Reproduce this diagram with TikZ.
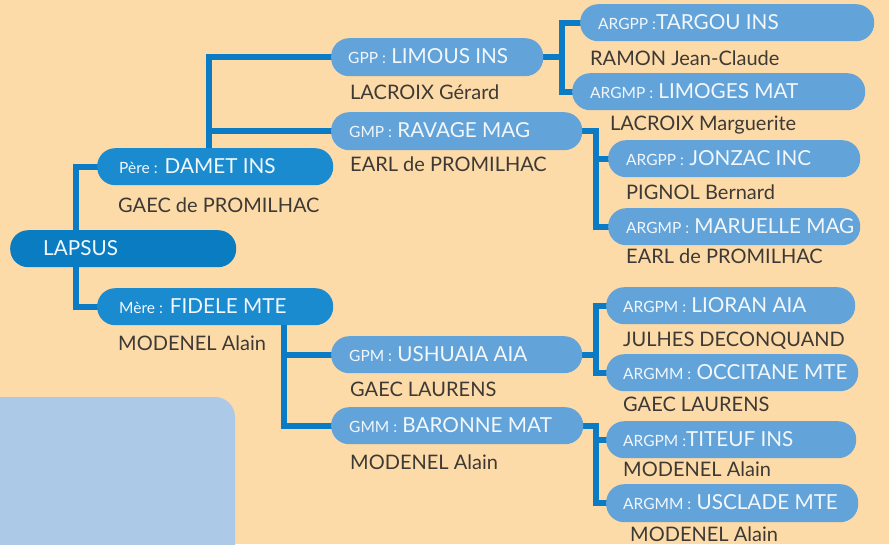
\documentclass[tikz,border=0pt]{standalone}
\usepackage{fontspec}
\setmainfont{Lato}
\pgfdeclarelayer{back}
\pgfdeclarelayer{bg}
\pgfsetlayers{back,bg,main}
\definecolor{bgpeach}{HTML}{FDDBA8}
\definecolor{darkblue}{HTML}{0A7CC2}
\definecolor{midblue}{HTML}{1B8BCF}
\definecolor{lightblue}{HTML}{62A3D9}
\definecolor{linkblue}{HTML}{0A7BC4}
\definecolor{panelblue}{HTML}{ADC9E8}
\definecolor{pilltxt}{HTML}{F2F7FC}
\definecolor{nametxt}{HTML}{3D3935}
\tikzset{
  pill/.style={draw=none, rounded corners=18pt, minimum height=37pt, inner sep=0pt, anchor=north west},
  pdark/.style={pill, fill=darkblue},
  pmid/.style={pill, fill=midblue},
  plight/.style={pill, fill=lightblue},
  ptext/.style={anchor=base west, text=pilltxt, inner sep=0pt, font=\fontsize{20.7}{24}\selectfont},
  ntext/.style={anchor=base west, text=nametxt, inner sep=0pt, font=\fontsize{20}{24}\selectfont},
  conn/.style={draw=linkblue, line width=6pt},
}
\newcommand\pfx[1]{{\fontsize{15.5}{17}\selectfont #1}}
\begin{document}
\begin{tikzpicture}[x=1pt,y=-1pt]
\useasboundingbox (0,0) rectangle (889,544);
\begin{pgfonlayer}{back}
\fill[bgpeach] (0,0) rectangle (889,544);
\begin{scope}
  \clip (0,0) rectangle (889,544);
  \fill[panelblue, rounded corners=20pt] (-40,397) rectangle (235,600);
\end{scope}
\end{pgfonlayer}

% pills
\node[pdark, minimum width=226pt] (lapsus) at (10,230) {};
\node[pmid, minimum width=236pt] (pere) at (97,148) {};
\node[pmid, minimum width=236pt] (mere) at (97,288) {};
\node[plight, minimum width=212pt, minimum height=38pt] (gpp) at (331,38) {};
\node[plight, minimum width=251pt, minimum height=38pt] (gmp) at (331,112) {};
\node[plight, minimum width=251pt] (gpm) at (331,336) {};
\node[plight, minimum width=252pt] (gmm) at (331,407) {};
\node[plight, minimum width=294pt] (targou) at (580,4) {};
\node[plight, minimum width=293pt] (limoges) at (572,73) {};
\node[plight, minimum width=252pt] (jonzac) at (608,140) {};
\node[plight, minimum width=252pt] (maruelle) at (608,208) {};
\node[plight, minimum width=249pt] (lioran) at (606,287) {};
\node[plight, minimum width=252pt] (occitane) at (606,354) {};
\node[plight, minimum width=250pt] (titeuf) at (606,421) {};
\node[plight, minimum width=252pt, minimum height=38pt] (usclade) at (606,484) {};

% pill texts
\node[ptext] (tlapsus) at ([xshift=33pt,yshift=-6.5pt]lapsus.west) {LAPSUS};
\node[ptext] (tpere) at ([xshift=22pt,yshift=-6.5pt]pere.west) {\pfx{Père :} DAMET INS};
\node[ptext] (tmere) at ([xshift=22pt,yshift=-6.5pt]mere.west) {\pfx{Mère :} FIDELE MTE};
\node[ptext] (tgpp) at ([xshift=17pt,yshift=-6.5pt]gpp.west) {\pfx{GPP :} LIMOUS INS};
\node[ptext] (tgmp) at ([xshift=18pt,yshift=-6.5pt]gmp.west) {\pfx{GMP :} RAVAGE MAG};
\node[ptext] (tgpm) at ([xshift=18pt,yshift=-6.5pt]gpm.west) {\pfx{GPM :} USHUAIA AIA};
\node[ptext] (tgmm) at ([xshift=18pt,yshift=-6.5pt]gmm.west) {\pfx{GMM :} BARONNE MAT};
\node[ptext] (ttargou) at ([xshift=18pt,yshift=-6.5pt]targou.west) {\pfx{ARGPP :}TARGOU INS};
\node[ptext] (tlimoges) at ([xshift=18pt,yshift=-6.5pt]limoges.west) {\pfx{ARGMP :} LIMOGES MAT};
\node[ptext] (tjonzac) at ([xshift=18pt,yshift=-6.5pt]jonzac.west) {\pfx{ARGPP :} JONZAC INC};
\node[ptext] (tmaruelle) at ([xshift=18pt,yshift=-6.5pt]maruelle.west) {\pfx{ARGMP :} MARUELLE MAG};
\node[ptext] (tlioran) at ([xshift=17pt,yshift=-6.5pt]lioran.west) {\pfx{ARGPM :} LIORAN AIA};
\node[ptext] (toccitane) at ([xshift=17pt,yshift=-6.5pt]occitane.west) {\pfx{ARGMM :} OCCITANE MTE};
\node[ptext] (ttiteuf) at ([xshift=17pt,yshift=-6.5pt]titeuf.west) {\pfx{ARGPM :}TITEUF INS};
\node[ptext] (tusclade) at ([xshift=17pt,yshift=-6.5pt]usclade.west) {\pfx{ARGMM :} USCLADE MTE};

% owner names
\node[ntext] (n1) at (118,212) {GAEC de PROMILHAC};
\node[ntext] (n2) at (118,350) {MODENEL Alain};
\node[ntext] (n3) at (350,99) {LACROIX Gérard};
\node[ntext] (n4) at (350,171) {EARL de PROMILHAC};
\node[ntext] (n5) at (590,65) {RAMON Jean-Claude};
\node[ntext] (n6) at (610,130) {LACROIX Marguerite};
\node[ntext] (n7) at (626,199) {PIGNOL Bernard};
\node[ntext] (n8) at (626,263) {EARL de PROMILHAC};
\node[ntext] (n9) at (350,396) {GAEC LAURENS};
\node[ntext] (n10) at (350,469) {MODENEL Alain};
\node[ntext] (n11) at (623,346) {JULHES DECONQUAND};
\node[ntext] (n12) at (623,411) {GAEC LAURENS};
\node[ntext] (n13) at (623,476) {MODENEL Alain};
\node[ntext] (n14) at (630,541) {MODENEL Alain};

% junction columns
\coordinate (j1) at (76,0);
\coordinate (j2) at (209,0);
\coordinate (j3) at (562,0);
\coordinate (j4) at (596,0);
\coordinate (j5) at (284,0);

\begin{pgfonlayer}{bg}
  \draw[conn] (pere.center) -| (lapsus.center -| j1) |- (mere.center);
  \draw[conn] (gpp.center) -| (pere.center -| j2);
  \draw[conn] (gmp.center) -- (gmp.center -| j2);
  \draw[conn] (targou.center) -| (limoges.center -| j3) -- (limoges.center);
  \draw[conn] (gpp.center) -- (gpp.center -| j3);
  \draw[conn] (gmp.center) -| (maruelle.center -| j4) -- (maruelle.center);
  \draw[conn] (jonzac.center -| j4) -- (jonzac.center);
  \draw[conn] (mere.center -| j5) |- (gmm.center);
  \draw[conn] (gpm.center -| j5) -- (gpm.center);
  \draw[conn] (lioran.center) -| (occitane.center -| j4) -- (occitane.center);
  \draw[conn] (gpm.center) -- (gpm.center -| j4);
  \draw[conn] (gmm.center) -| (usclade.center -| j4) -- (usclade.center);
  \draw[conn] (titeuf.center -| j4) -- (titeuf.center);
\end{pgfonlayer}
\end{tikzpicture}
\end{document}
